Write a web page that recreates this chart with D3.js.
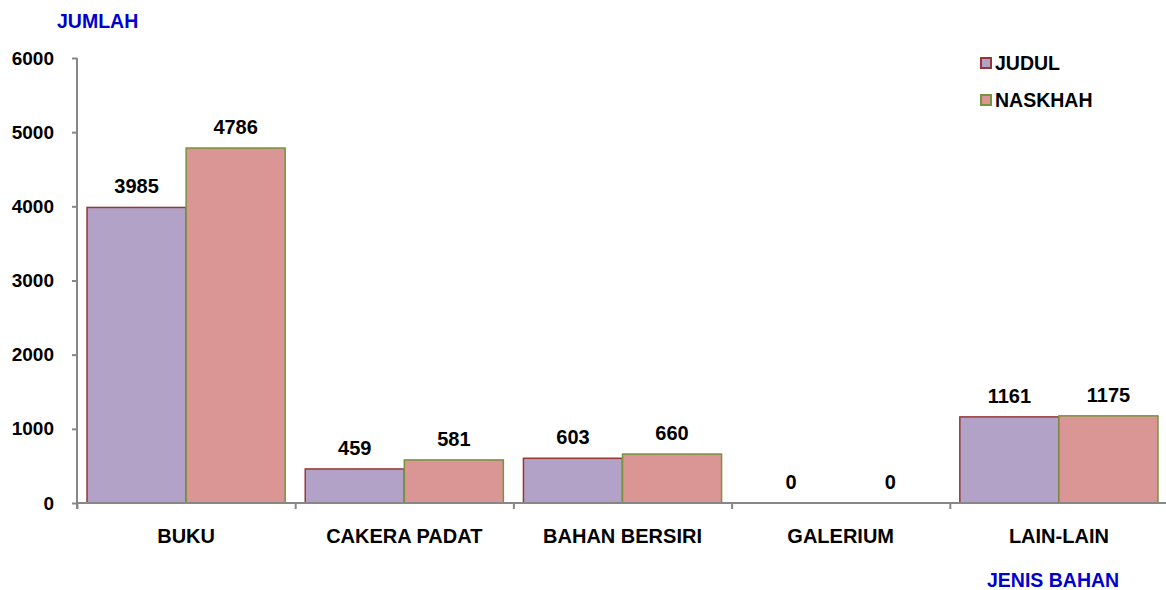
<!DOCTYPE html>
<html>
<head>
<meta charset="utf-8">
<script src="https://cdn.jsdelivr.net/npm/d3@7"></script>
<style>
  body { margin: 0; background: #fff; }
  text { font-family: "Liberation Sans", Arial, sans-serif; font-weight: bold; }
</style>
</head>
<body>
<div id="chart"></div>
<script>
const categories = ["BUKU", "CAKERA PADAT", "BAHAN BERSIRI", "GALERIUM", "LAIN-LAIN"];
const judul = [3985, 459, 603, 0, 1161];
const naskhah = [4786, 581, 660, 0, 1175];
const yTicks = [0, 1000, 2000, 3000, 4000, 5000, 6000];

const series = [
    { name: "JUDUL", values: judul, fill: "#B3A2C7", stroke: "#953735" },
    { name: "NASKHAH", values: naskhah, fill: "#D99694", stroke: "#77933C" }
];

const width = 1166, height = 590;
const margin = { left: 77, right: -2, top: 58, bottom: 87 };

const svg = d3.select("#chart")
    .append("svg")
    .attr("width", width)
    .attr("height", height);

const x = d3.scaleBand()
    .domain(categories)
    .range([margin.left, width - margin.right])
    .paddingInner(0.092)
    .paddingOuter(0.046);

const x1 = d3.scaleBand()
    .domain(series.map(s => s.name))
    .range([0, x.bandwidth()]);

const y = d3.scaleLinear()
    .domain([0, 6000])
    .range([height - margin.bottom, margin.top]);

// bars
series.forEach(s => {
    const g = svg.append("g");
    g.selectAll("rect")
        .data(categories.map((c, i) => ({ c, v: s.values[i] })))
        .enter()
        .append("rect")
        .attr("x", d => x(d.c) + x1(s.name))
        .attr("y", d => y(d.v))
        .attr("width", x1.bandwidth())
        .attr("height", d => y(0) - y(d.v))
        .attr("fill", s.fill)
        .attr("stroke", d => d.v > 0 ? s.stroke : "none")
        .attr("stroke-width", 1.5);

    g.selectAll("text")
        .data(categories.map((c, i) => ({ c, v: s.values[i] })))
        .enter()
        .append("text")
        .attr("x", d => x(d.c) + x1(s.name) + x1.bandwidth() / 2)
        .attr("y", d => y(d.v) - 14)
        .attr("text-anchor", "middle")
        .style("font-size", "20px")
        .text(d => d.v);
});

// y axis
const yAxis = svg.append("g")
    .attr("transform", `translate(${margin.left},0)`)
    .call(d3.axisLeft(y).tickValues(yTicks).tickSize(5).tickPadding(18).tickFormat(d3.format("d")));
yAxis.selectAll("text").style("font-size", "19px").attr("fill", "#000");

// x axis (ticks at category boundaries)
const step = x.step();
const xStart = margin.left;
const boundaries = d3.range(categories.length + 1).map(i => xStart + i * step);
const xAxis = svg.append("g")
    .attr("transform", `translate(0,${y(0)})`)
    .call(d3.axisBottom(d3.scaleLinear().domain([xStart, width - margin.right]).range([xStart, width - margin.right]))
        .tickValues(boundaries).tickSize(6).tickFormat(""));

svg.selectAll(".domain, .tick line")
    .attr("stroke", "#878787")
    .attr("stroke-width", 2);
xAxis.select(".domain").attr("d", `M${xStart},0H${width}`);
yAxis.select(".domain").remove();
svg.append("line")
    .attr("x1", margin.left).attr("x2", margin.left)
    .attr("y1", y(6000)).attr("y2", y(0) + 6)
    .attr("stroke", "#878787").attr("stroke-width", 2);

// category labels
svg.append("g").selectAll("text")
    .data(categories)
    .enter()
    .append("text")
    .attr("x", d => x(d) + x.bandwidth() / 2)
    .attr("y", 543)
    .attr("text-anchor", "middle")
    .style("font-size", "20px")
    .text(d => d);

// axis titles
svg.append("text")
    .attr("x", 57).attr("y", 28)
    .attr("fill", "#0000CC")
    .style("font-size", "19.5px")
    .text("JUMLAH");

svg.append("text")
    .attr("x", 987).attr("y", 587)
    .attr("fill", "#0000CC")
    .style("font-size", "19.5px")
    .text("JENIS BAHAN");

// legend
const legend = svg.append("g").attr("transform", "translate(980,57)");
series.forEach((s, i) => {
    const row = legend.append("g").attr("transform", `translate(0,${i * 37})`);
    row.append("rect")
        .attr("x", 1).attr("y", 1)
        .attr("width", 10).attr("height", 10)
        .attr("fill", s.fill)
        .attr("stroke", s.stroke)
        .attr("stroke-width", 2);
    row.append("text")
        .attr("x", 15).attr("y", 13)
        .style("font-size", "19.5px")
        .text(s.name);
});
</script>
</body>
</html>
